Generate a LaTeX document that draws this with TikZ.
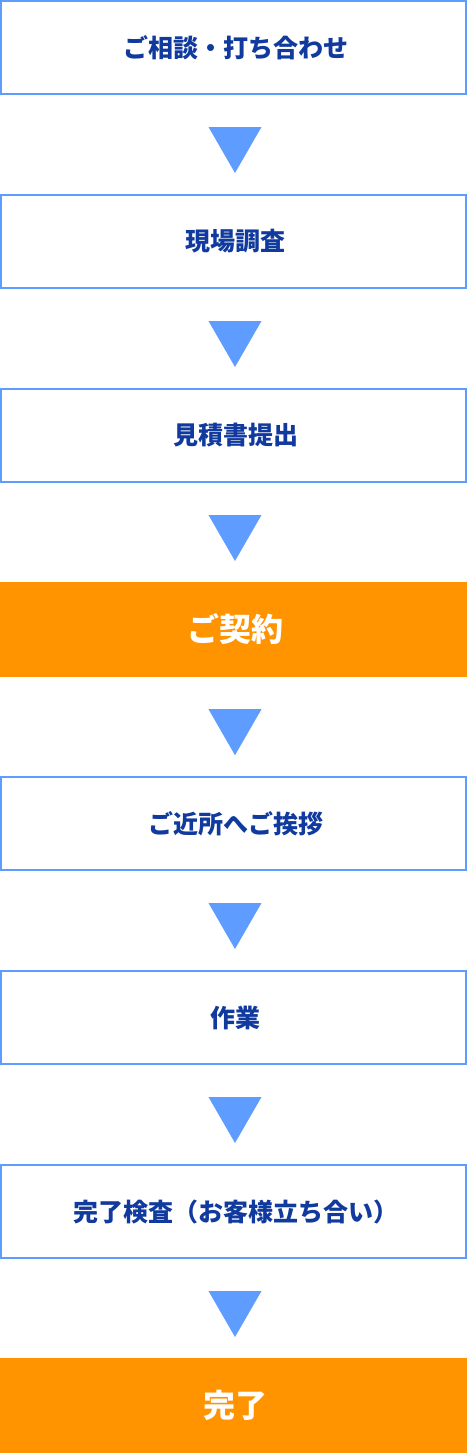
\documentclass[tikz,border=0pt]{standalone}
\usepackage{fontspec}
\setmainfont{Noto Sans CJK JP}
\usetikzlibrary{calc}
\definecolor{stepblue}{RGB}{94,156,255}
\definecolor{stepink}{RGB}{16,58,158}
\definecolor{steporange}{RGB}{255,147,0}
\tikzset{
 stepbox/.style={draw=stepblue,line width=2pt,fill=white,minimum width=465pt,minimum height=93pt,
   inner sep=0pt,text=stepink,font=\bfseries\fontsize{25pt}{30pt}\selectfont},
 stepmain/.style={fill=steporange,minimum width=467pt,minimum height=95pt,
   inner sep=0pt,text=white,font=\bfseries\fontsize{32pt}{38pt}\selectfont},
 steparrow/.style={fill=stepblue}
}
\begin{document}
\begin{tikzpicture}[x=1pt,y=-1pt]
 \useasboundingbox (0,0) rectangle (467,1454);
 \foreach \i/\s/\t in {1/stepbox/ご相談・打ち合わせ,2/stepbox/現場調査,3/stepbox/見積書提出,4/stepmain/ご契約,
   5/stepbox/ご近所へご挨拶,6/stepbox/作業,7/stepbox/完了検査（お客様立ち合い）,8/stepmain/完了}{
  \node[\s] (s\i) at (233.5,{47.5+194*(\i-1)}) {\hspace*{4pt}\t};
 }
 % triangles between the steps
 \foreach \i in {1,...,7}{
  \fill[steparrow] ($(s\i.south)+(-25,32)$) -- ++(53,0) -- ++(-26.5,46) -- cycle;
 }
\end{tikzpicture}
\end{document}
